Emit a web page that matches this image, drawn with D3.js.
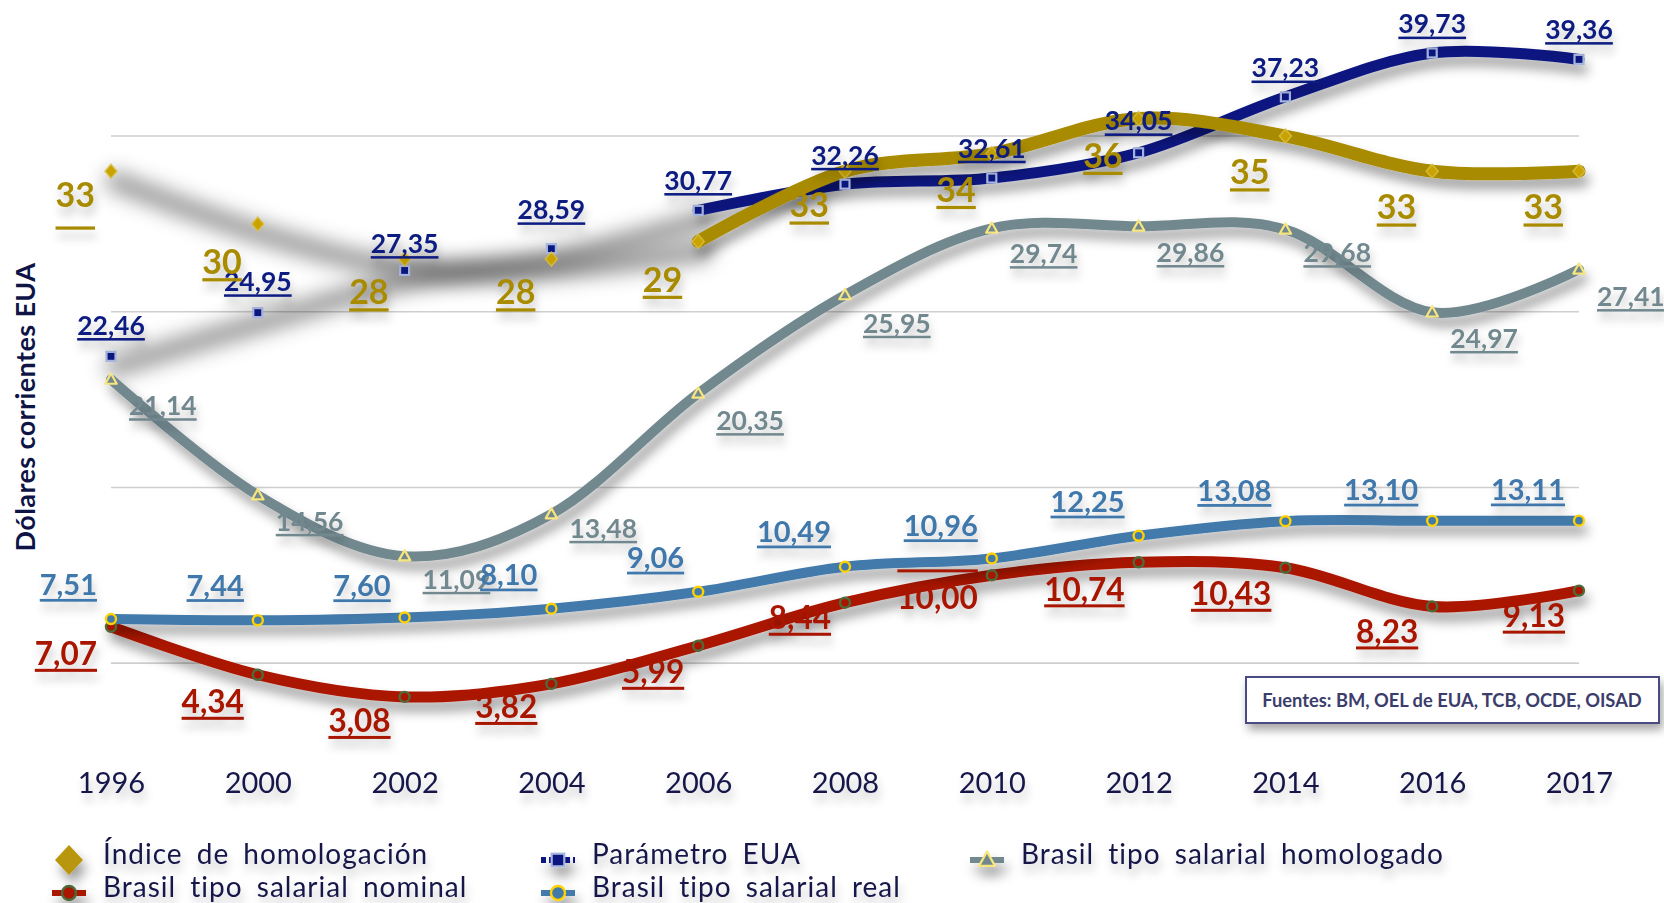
<!DOCTYPE html>
<html><head><meta charset="utf-8">
<script src="https://cdn.jsdelivr.net/npm/d3@7/dist/d3.min.js"></script>
<style>
html,body{margin:0;padding:0;background:#fff;}
svg{display:block;font-family:Lato,"Open Sans",sans-serif;}
</style></head><body>
<svg id="chart" width="1664" height="903"></svg>
<script>
// ---------------- data ----------------
const years = ["1996","2000","2002","2004","2006","2008","2010","2012","2014","2016","2017"];
const indice = [33,30,28,28,29,33,34,36,35,33,33];
const parametro = [22.46,24.95,27.35,28.59,30.77,32.26,32.61,34.05,37.23,39.73,39.36];
const homologado = [21.14,14.56,11.09,13.48,20.35,25.95,29.74,29.86,29.68,24.97,27.41];
const nominal = [7.07,4.34,3.08,3.82,5.99,8.44,10.00,10.74,10.43,8.23,9.13];
const real = [7.51,7.44,7.60,8.10,9.06,10.49,10.96,12.25,13.08,13.10,13.11];
const gridValues = [5,15,25,35];
const seriesNames = ["Índice de homologación","Parámetro EUA","Brasil tipo salarial homologado","Brasil tipo salarial nominal","Brasil tipo salarial real"];
const yTitle = "Dólares corrientes EUA";
const sourceText = "Fuentes: BM, OEL de EUA, TCB, OCDE, OISAD";

// -------------- label layout tweaks (offsets from default, px) --------------
const indiceLabelAdj = [-12,2,-3,-3,2,-2,0,1,0,0,0];
const parametroLabelAdj = [-1,-1,3,-9,0,1,0,-2,1,1,0];
const homologadoLabelAdj = [0,0,-3,-12,1,2,-1,0,-3,0,1];
const nominalLabelAdj = [2,2,-1,-2,1,-10,-3,2,1,0,0];
const realLabelAdj = [-1,-2,1,-1,-1,-2,0,-1,2,2,2];
const indiceUnderlineAdj = [15,0,0,0,0,0,0,0,0,0,0];
const nominalUnderlineAdj = [0,0,0,0,0,0,-43,0,0,0,0];

const W = 1664, H = 903;
const svg = d3.select("#chart");
const defs = svg.append("defs");

function makeFilter(id, dx, dy, std, op, keepSource){
  const f = defs.append("filter").attr("id", id)
    .attr("filterUnits","userSpaceOnUse").attr("x",-2*W).attr("y",-2*H).attr("width",5*W).attr("height",5*H);
  f.append("feGaussianBlur").attr("in","SourceAlpha").attr("stdDeviation",std).attr("result","b");
  f.append("feOffset").attr("in","b").attr("dx",dx).attr("dy",dy).attr("result","o");
  f.append("feFlood").attr("flood-color","#000").attr("flood-opacity",op).attr("result","c");
  f.append("feComposite").attr("in","c").attr("in2","o").attr("operator","in").attr("result","s");
  const m = f.append("feMerge");
  m.append("feMergeNode").attr("in","s");
  if (keepSource) m.append("feMergeNode").attr("in","SourceGraphic");
}
makeFilter("lineShadow", 4, 9, 6, 0.38, true);
makeFilter("bandShadow", 4, 10, 10, 0.40, false);
makeFilter("textShadow", 2, 8, 4, 0.22, true);
makeFilter("boxShadow", 3, 6, 5, 0.35, true);

// -------------- scales --------------
const x = d3.scalePoint().domain(years).range([111, 1579]);
const y = d3.scaleLinear().domain([0, 40]).range([751, 48.2]);

// gridlines
svg.append("g").selectAll("line").data(gridValues).join("line")
  .attr("x1", x(years[0])).attr("x2", x(years[years.length-1]))
  .attr("y1", d => y(d)).attr("y2", d => y(d))
  .attr("stroke", "#CFCFCF").attr("stroke-width", 1.6);

// x axis labels
const xAxis = d3.axisBottom(x).tickSize(0).tickPadding(0).tickFormat(d => d);
const gx = svg.append("g").attr("transform", "translate(0,772)").call(xAxis)
  .attr("filter","url(#textShadow)");
gx.select(".domain").remove();
gx.selectAll("text").attr("font-family","Lato, sans-serif").attr("font-size",29)
  .attr("fill","#15174A").attr("dy", 21).attr("y",0);

// y title
svg.append("text").attr("transform","translate(35,407) rotate(-90)")
  .attr("text-anchor","middle").attr("font-size",27).attr("font-weight",700)
  .attr("letter-spacing",0.4)
  .attr("fill","#0E1546").text(yTitle);

const fmt2 = v => d3.format(".2f")(v).replace(".", ",");
const fmtInt = v => d3.format("d")(v);

const series = [
  {key:"parametro", name:seriesNames[1], values:parametro, color:"#0A1780", width:11, start:4, marker:"square",
   label:{fmt:fmt2, anchor:"middle", dx:0, dy:-30, fs:26.5, color:"#0B1A80", adj:parametroLabelAdj}},
  {key:"indice", name:seriesNames[0], values:indice, color:"#A88B00", width:13, start:4, marker:"diamond",
   label:{fmt:fmtInt, anchor:"end", dx:-16, dy:36, fs:34, color:"#A88B00", adj:indiceLabelAdj, ul:indiceUnderlineAdj}},
  {key:"homologado", name:seriesNames[2], values:homologado, color:"#72888F", width:10, start:0, marker:"triangle",
   label:{fmt:fmt2, anchor:"start", dx:18, dy:26, fs:26.5, color:"#72888F", adj:homologadoLabelAdj}},
  {key:"nominal", name:seriesNames[3], values:nominal, color:"#AA1500", width:11, start:0, marker:"circleN",
   label:{fmt:fmt2, anchor:"end", dx:-14, dy:25, fs:31.5, color:"#A81400", adj:nominalLabelAdj, ul:nominalUnderlineAdj}},
  {key:"real", name:seriesNames[4], values:real, color:"#427AAB", width:10, start:0, marker:"circleR",
   label:{fmt:fmt2, anchor:"end", dx:-14, dy:-33, fs:29, color:"#3F78AC", adj:realLabelAdj}}
];

const line = d3.line().x(d => x(d.year)).y(d => y(d.v)).curve(d3.curveCardinal.tension(0));
const pts = s => s.values.map((v,i) => ({year:years[i], v:v, i:i}));

// invisible segments: only their shadow remains
const bandG = svg.append("g");
series.filter(s => s.start > 0).forEach(s => {
  bandG.append("path").attr("d", line(pts(s).slice(0, s.start+1)))
    .attr("fill","none").attr("stroke","#000").attr("stroke-width", 20)
    .attr("stroke-linecap","round").attr("filter","url(#bandShadow)");
});

// visible lines
const lineG = svg.append("g");
series.forEach(s => {
  lineG.append("path").attr("d", line(pts(s).slice(s.start)))
    .attr("fill","none").attr("stroke", s.color).attr("stroke-width", s.width)
    .attr("stroke-linecap","round").attr("stroke-linejoin","round")
    .attr("filter","url(#lineShadow)");
});

// markers
function drawMarker(g, type, cx, cy, scale){
  scale = scale || 1;
  if (type === "diamond") {
    const h = 7*scale, w = 6*scale;
    g.append("path").attr("d", `M${cx},${cy-h}L${cx+w},${cy}L${cx},${cy+h}L${cx-w},${cy}Z`)
      .attr("fill","#C9A400").attr("stroke","#DCC04A").attr("stroke-width",1.5).attr("stroke-opacity",0.8);
  } else if (type === "square") {
    const a = 4.5*scale;
    g.append("rect").attr("x",cx-a).attr("y",cy-a).attr("width",2*a).attr("height",2*a)
      .attr("fill","#0A1780").attr("stroke","#A7B5DE").attr("stroke-width",2.2);
  } else if (type === "triangle") {
    const r = 6*scale;
    g.append("path").attr("d", `M${cx},${cy-r}L${cx+r*0.95},${cy+r*0.7}L${cx-r*0.95},${cy+r*0.7}Z`)
      .attr("fill","#72888F").attr("stroke","#F7E57E").attr("stroke-width",2.2).attr("stroke-linejoin","round");
  } else if (type === "circleN") {
    g.append("circle").attr("cx",cx).attr("cy",cy).attr("r",5*scale)
      .attr("fill","#AA1500").attr("stroke","#4E6B3C").attr("stroke-width",2.4);
  } else if (type === "circleR") {
    g.append("circle").attr("cx",cx).attr("cy",cy).attr("r",5*scale)
      .attr("fill","#427AAB").attr("stroke","#FFD200").attr("stroke-width",2.4);
  }
}
const markerG = svg.append("g");
series.forEach(s => {
  pts(s).forEach(p => drawMarker(markerG, s.marker, x(p.year), y(p.v)));
});

// data labels with underline
const labelG = svg.append("g").attr("filter","url(#textShadow)");
series.forEach(s => {
  const L = s.label;
  pts(s).forEach(p => {
    const cx = x(p.year) + L.dx;
    const cy = y(p.v) + L.dy + (L.adj ? L.adj[p.i] : 0);
    const base = cy + 0.358 * L.fs;
    const t = labelG.append("text").attr("x", cx).attr("y", base)
      .attr("text-anchor", L.anchor).attr("font-size", L.fs).attr("font-weight", 700)
      .attr("fill", L.color).text(L.fmt(p.v));
    const bb = t.node().getBBox();
    const uy = base + 0.12 * L.fs + (L.ul ? L.ul[p.i] : 0);
    labelG.append("rect").attr("x", bb.x).attr("y", uy).attr("width", bb.width)
      .attr("height", Math.max(2.2, 0.095 * L.fs)).attr("fill", L.color);
  });
});

// source box
const src = svg.append("g");
src.append("rect").attr("x",1246).attr("y",677).attr("width",413).attr("height",46)
  .attr("fill","#fff").attr("stroke","#4B4C84").attr("stroke-width",2).attr("filter","url(#boxShadow)");
src.append("text").attr("x",1452).attr("y",707).attr("text-anchor","middle")
  .attr("font-size",18.3).attr("font-weight",700).attr("fill","#3B3D6B").text(sourceText);

// legend
const legendOrder = [series[1], series[0], series[2], series[3], series[4]];
const legCols = [69, 558, 987];
const legRows = [860, 893];
const legText = [864, 897];
const legG = svg.append("g");
legendOrder.forEach((s, k) => {
  const col = k % 3, row = Math.floor(k / 3);
  const mx = legCols[col], my = legRows[row];
  const g = legG.append("g").attr("filter","url(#lineShadow)");
  if (s.marker === "diamond") {
    g.append("path").attr("d", `M${mx},${my-15}L${mx+14},${my}L${mx},${my+15}L${mx-14},${my}Z`)
      .attr("fill","#B8960A");
  } else {
    g.append("line").attr("x1",mx-17).attr("x2",mx+17).attr("y1",my).attr("y2",my)
      .attr("stroke", s.color).attr("stroke-width", 6).attr("stroke-dasharray", s.marker==="square" ? "5,3" : null);
    drawMarker(g, s.marker, mx, my, 1.4);
  }
  legG.append("text").attr("x", mx + 34).attr("y", legText[row])
    .attr("font-size", 28).attr("letter-spacing", 1).attr("word-spacing", 6)
    .attr("fill", "#15174A").attr("filter","url(#textShadow)").text(s.name);
});
</script>
</body></html>
